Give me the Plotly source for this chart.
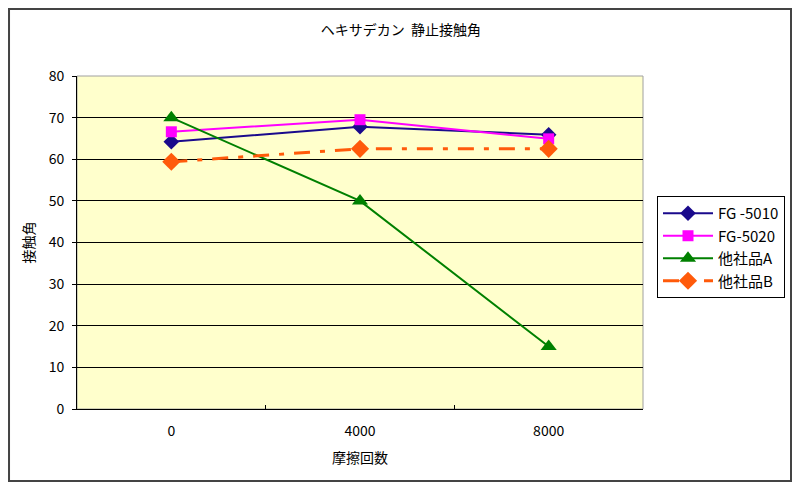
import plotly.graph_objects as go

# 摩擦回数 (categories)
cycles = ["0", "4000", "8000"]

# 静止接触角
fg_5010 = [64.2, 67.8, 65.9]
fg_5020 = [66.6, 69.5, 64.9]
other_a = [70.0, 50.0, 15.0]
other_b = [59.4, 62.5, 62.5]

FONT = "Noto Sans CJK JP"

fig = go.Figure()

fig.add_trace(go.Scatter(
    x=cycles, y=fg_5010, name="FG -5010", mode="lines+markers",
    line=dict(color="#1a0a8c", width=2),
    marker=dict(symbol="diamond", size=12, color="#1a0a8c")
))
fig.add_trace(go.Scatter(
    x=cycles, y=fg_5020, name="FG-5020", mode="lines+markers",
    line=dict(color="#ff00ff", width=2),
    marker=dict(symbol="square", size=11, color="#ff00ff")
))
fig.add_trace(go.Scatter(
    x=cycles, y=other_a, name="他社品A", mode="lines+markers",
    line=dict(color="#008000", width=2),
    marker=dict(symbol="triangle-up", size=14, color="#008000")
))
fig.add_trace(go.Scatter(
    x=cycles, y=other_b, name="他社品B", mode="lines+markers",
    line=dict(color="#ff5a0a", width=3, dash="16px,10px,5px,10px"),
    marker=dict(symbol="diamond", size=14, color="#ff5a0a")
))

# 外枠
fig.add_shape(
    type="rect", xref="paper", yref="paper",
    x0=-0.1201, x1=1.2615, y0=-0.2162, y1=1.2012,
    line=dict(color="#444444", width=2), layer="below"
)
# プロットエリア枠 (上・右はグレー)
fig.add_shape(
    type="rect", xref="paper", yref="paper",
    x0=0, x1=1, y0=0, y1=1,
    line=dict(color="#a0a0a0", width=1), layer="below"
)

fig.update_layout(
    width=784, height=474,
    margin=dict(l=69, r=149, t=68, b=73, autoexpand=False),
    paper_bgcolor="white",
    plot_bgcolor="#ffffcc",
    font=dict(family=FONT, size=13, color="black"),
    title=dict(
        text="ヘキサデカン  静止接触角", x=0.501, xref="container",
        y=1 - 22 / 474, yanchor="middle", font=dict(size=14)
    ),
    legend=dict(
        xref="container", yref="container",
        x=649 / 784, xanchor="left", y=1 - 188 / 474, yanchor="top",
        bordercolor="black", borderwidth=1, bgcolor="white",
        font=dict(size=15), tracegroupgap=0, itemwidth=50
    ),
    showlegend=True
)

fig.update_xaxes(
    type="category", range=[-0.5, 2.5],
    showline=True, linecolor="black", linewidth=1,
    ticks="inside", tickson="boundaries", ticklen=4, tickcolor="black",
    showgrid=False, zeroline=False, ticklabelstandoff=9,
    title=dict(text="摩擦回数", standoff=14, font=dict(size=14)),
    tickfont=dict(size=14), automargin=False
)
fig.update_yaxes(
    range=[0, 80], dtick=10,
    showline=True, linecolor="black", linewidth=1,
    ticks="outside", ticklen=4, tickcolor="black",
    showgrid=True, gridcolor="black", gridwidth=1,
    zeroline=False, ticklabelstandoff=5,
    title=dict(text="接触角", standoff=10, font=dict(size=14)),
    tickfont=dict(size=14), automargin=False
)

fig.write_html("out.html")
